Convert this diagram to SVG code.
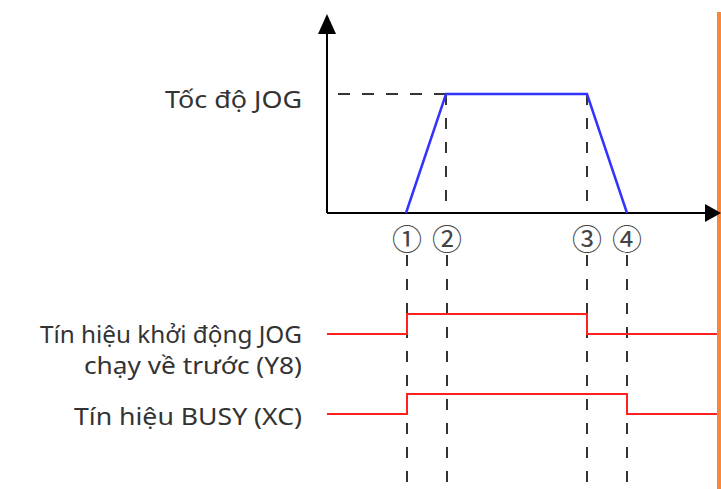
<svg xmlns="http://www.w3.org/2000/svg" width="721" height="489" viewBox="0 0 721 489">
<style>
.lbl{font-family:"Noto Sans","Open Sans","Liberation Sans",sans-serif;font-size:24px;fill:#333;text-anchor:end}
.num{font-family:"Noto Sans CJK JP","DejaVu Sans",sans-serif;font-size:30px;fill:#444;text-anchor:middle;dominant-baseline:central}
.axis{stroke:#000;stroke-width:2;fill:none}
.dash{stroke:#333;stroke-width:2;stroke-dasharray:12 12;fill:none}
.vdash{stroke:#333;stroke-width:2;stroke-dasharray:11 13;fill:none}
.speed{stroke:#3333ff;stroke-width:2.5;fill:none}
.sig{stroke:#ff2020;stroke-width:2;fill:none}
</style>
<rect width="721" height="489" fill="#fff"/>
<rect x="717" y="12" width="4" height="477" fill="#f7883a"/>
<g id="axes">
<line class="axis" x1="327" y1="213" x2="327" y2="28"/>
<polygon points="327,14 318,34 336,34" fill="#000"/>
<line class="axis" x1="327" y1="213" x2="708" y2="213"/>
<polygon points="721,213 705,204 705,222" fill="#000"/>
</g>
<g id="guides">
<line class="dash" x1="338" y1="94" x2="446" y2="94"/>
<line class="vdash" x1="446" y1="94" x2="446" y2="213"/>
<line class="vdash" x1="587" y1="94" x2="587" y2="213"/>
<line class="vdash" x1="407" y1="255" x2="407" y2="489"/>
<line class="vdash" x1="447" y1="255" x2="447" y2="489"/>
<line class="vdash" x1="587" y1="255" x2="587" y2="489"/>
<line class="vdash" x1="627" y1="255" x2="627" y2="489"/>
</g>
<g id="speed-profile">
<polyline class="speed" points="406,213 446,94 587,94 627,213"/>
</g>
<g id="signal-y8">
<polyline class="sig" points="327,334 407,334 407,314 587,314 587,334 717,334"/>
</g>
<g id="signal-busy">
<polyline class="sig" points="327,414 407,414 407,394 627,394 627,414 717,414"/>
</g>
<g id="labels">
<text class="lbl" x="302" y="108" textLength="137" lengthAdjust="spacingAndGlyphs">Tốc độ JOG</text>
<text class="lbl" x="302" y="343" textLength="262" lengthAdjust="spacingAndGlyphs">Tín hiệu khởi động JOG</text>
<text class="lbl" x="302" y="374" textLength="218" lengthAdjust="spacingAndGlyphs">chạy về trước (Y8)</text>
<text class="lbl" x="302" y="425" textLength="228" lengthAdjust="spacingAndGlyphs">Tín hiệu BUSY (XC)</text>
</g>
<g id="points">
<text class="num" x="407" y="237">①</text>
<text class="num" x="447" y="237">②</text>
<text class="num" x="587" y="237">③</text>
<text class="num" x="627" y="237">④</text>
</g>
</svg>
